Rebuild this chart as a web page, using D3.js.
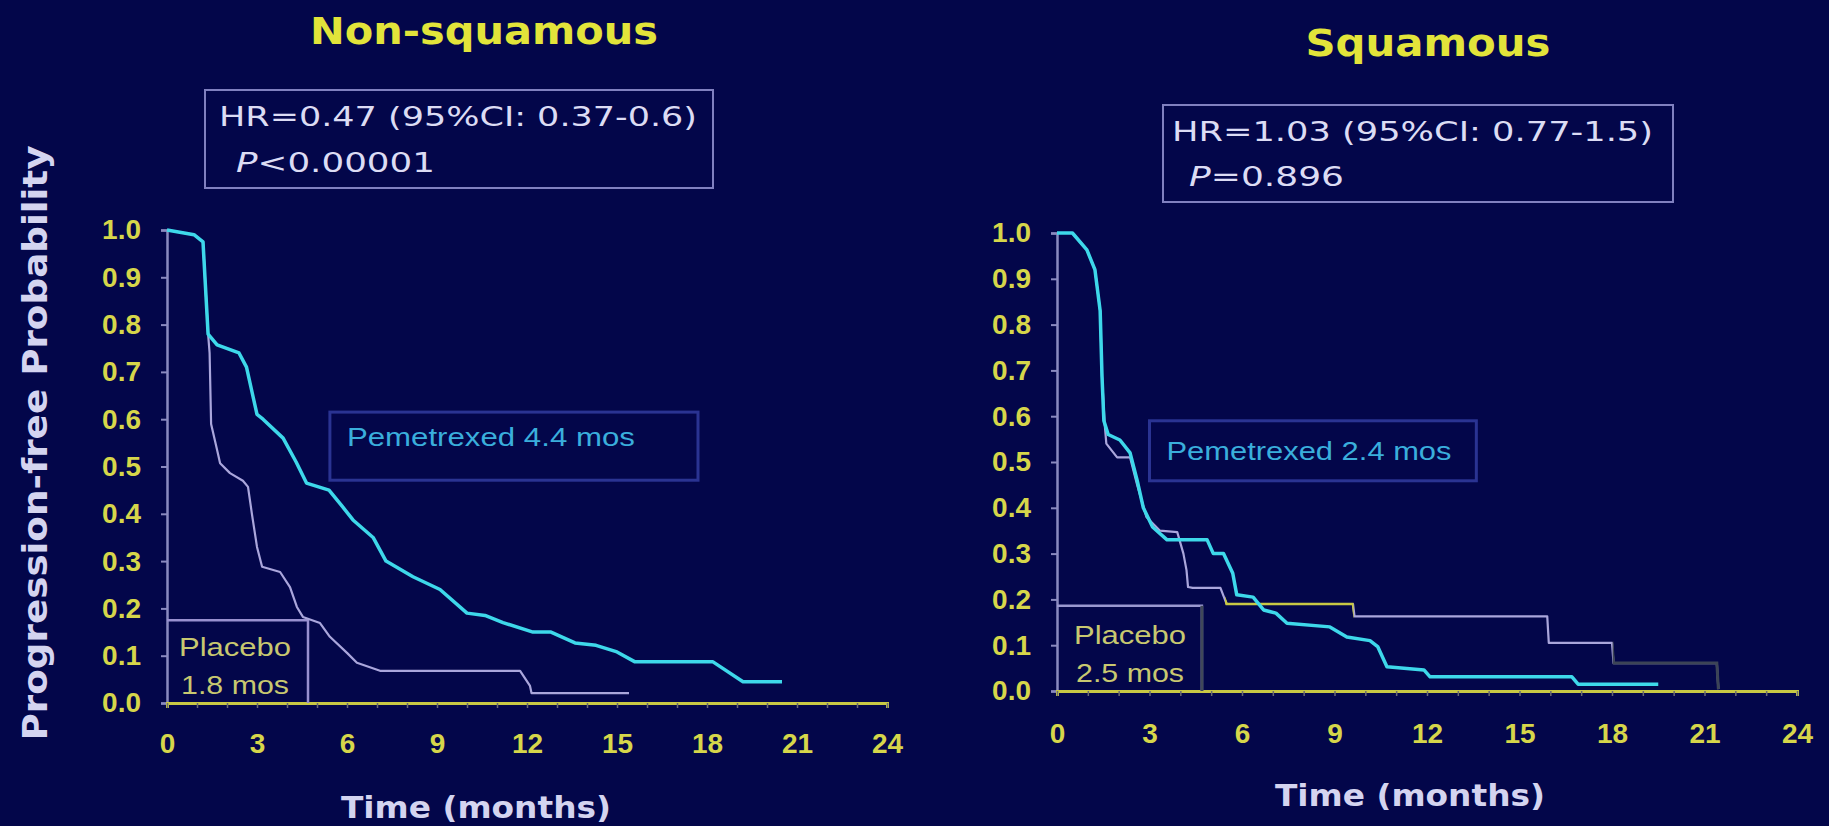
<!DOCTYPE html>
<html><head><meta charset="utf-8">
<script src="https://cdn.jsdelivr.net/npm/d3@7"></script>
<style>html,body{margin:0;padding:0;background:#03064a;} svg{display:block}</style>
</head><body>
<svg id="c" width="1829" height="826"></svg>
<script>
// ---------------- data ----------------
const monthTicks = d3.range(0, 25, 1);
const xTickLabels = [0, 3, 6, 9, 12, 15, 18, 21, 24];
const yTickLabels = [0, 0.1, 0.2, 0.3, 0.4, 0.5, 0.6, 0.7, 0.8, 0.9, 1.0];
const titles = ["Non-squamous", "Squamous"];
const hrLines = ["HR=0.47 (95%CI: 0.37-0.6)", "HR=1.03 (95%CI: 0.77-1.5)"];
const pLines = ["<0.00001", "=0.896"];
const pemLabels = ["Pemetrexed 4.4 mos", "Pemetrexed 2.4 mos"];
const placeboLabels = [["Placebo", "1.8 mos"], ["Placebo", "2.5 mos"]];
const xTitle = "Time (months)";
const yTitle = "Progression-free  Probability";

// [months, probability]
const pemNonSq = [[0,1.0],[0.9,0.99],[1.2,0.975],[1.37,0.78],[1.67,0.757],[2.4,0.74],[2.65,0.71],[3.0,0.61],[3.2,0.60],[3.87,0.56],[4.3,0.51],[4.65,0.465],[5.4,0.45],[5.85,0.415],[6.2,0.387],[6.87,0.35],[7.3,0.30],[8.2,0.267],[9.1,0.24],[10.0,0.19],[10.6,0.185],[11.2,0.17],[12.2,0.15],[12.8,0.15],[13.6,0.127],[14.3,0.122],[15.0,0.108],[15.6,0.087],[18.2,0.087],[19.2,0.045],[20.5,0.045]];
const placeboNonSq = [[0,1.0],[0.9,0.99],[1.2,0.975],[1.37,0.78],[1.42,0.74],[1.47,0.59],[1.67,0.535],[1.77,0.507],[2.1,0.486],[2.53,0.47],[2.7,0.457],[2.83,0.40],[3.0,0.33],[3.17,0.288],[3.77,0.277],[4.1,0.245],[4.33,0.203],[4.53,0.182],[5.1,0.169],[5.43,0.14],[6.0,0.106],[6.33,0.085],[7.1,0.068],[11.77,0.068],[12.1,0.036],[12.15,0.021],[15.4,0.021]];
const pemSq = [[0,1.0],[0.5,1.0],[0.97,0.963],[1.23,0.92],[1.4,0.83],[1.46,0.686],[1.52,0.59],[1.66,0.56],[2.04,0.548],[2.37,0.52],[2.6,0.46],[2.8,0.40],[3.1,0.358],[3.57,0.33],[4.87,0.33],[5.07,0.30],[5.4,0.30],[5.7,0.257],[5.83,0.21],[6.36,0.205],[6.7,0.177],[7.1,0.17],[7.46,0.148],[8.85,0.14],[9.4,0.118],[10.15,0.11],[10.4,0.097],[10.7,0.053],[11.9,0.046],[12.1,0.031],[16.7,0.031],[16.9,0.015],[19.5,0.015]];
const placeboSq = [[0,1.0],[0.5,1.0],[0.97,0.963],[1.23,0.92],[1.4,0.83],[1.46,0.686],[1.55,0.58],[1.6,0.54],[1.95,0.51],[2.37,0.51],[2.6,0.45],[2.9,0.38],[3.34,0.35],[3.9,0.347],[4.1,0.30],[4.2,0.264],[4.25,0.227],[4.4,0.225],[5.3,0.225],[5.5,0.19],[9.6,0.19],[9.65,0.163],[15.9,0.163],[15.95,0.105],[18.0,0.105],[18.05,0.061],[21.4,0.061],[21.45,0.004]];

// annotation boxes in data units: [t0, t1, p0, p1]
const pemBoxes = [[5.43, 17.7, 0.471, 0.615], [3.0, 13.6, 0.459, 0.59]];
const placeboBoxes = [[0, 4.7, 0, 0.175], [0, 4.7, 0, 0.186]];

// ---------------- layout ----------------
const panels = [
  {x0:167, x1:887, yTop:230, yBot:703, pem:pemNonSq, pla:placeboNonSq,
   titleX:484, titleY:44, titleLen:348,
   hrBox:[205,90,508,98], hrX:219, hrY:126, hrLen:478, pX:236, pY:172, pLen:199,
   pemTxtDX:17, pemTxtDY:34, pemTxtLen:288,
   plaCX:235, plaY1:656, plaY2:694,
   xTitleX:476, xTitleY:818, tickTextY:30},
  {x0:1057, x1:1797, yTop:233, yBot:691, pem:pemSq, pla:placeboSq,
   titleX:1428, titleY:56, titleLen:245,
   hrBox:[1163,105,510,97], hrX:1172, hrY:141, hrLen:481, pX:1189, pY:186, pLen:155,
   pemTxtDX:17, pemTxtDY:39, pemTxtLen:285,
   plaCX:1130, plaY1:644, plaY2:682,
   xTitleX:1410, xTitleY:806, tickTextY:32}
];

const svg = d3.select("#c");
svg.append("rect").attr("width",1829).attr("height",826).attr("fill","#03064a");

const YEL = "#d6d64a", LAV = "#d4d4f0";

panels.forEach((P, i) => {
  const x = d3.scaleLinear().domain([0,24]).range([P.x0, P.x1]);
  const y = d3.scaleLinear().domain([0,1]).range([P.yBot, P.yTop]);
  const g = svg.append("g");

  // title
  g.append("text").attr("x",P.titleX).attr("y",P.titleY).attr("text-anchor","middle")
    .attr("font-family","DejaVu Sans").attr("font-weight","bold").attr("font-size",38)
    .attr("textLength",P.titleLen).attr("lengthAdjust","spacingAndGlyphs")
    .attr("fill","#e2e43a").text(titles[i]);

  // HR box
  g.append("rect").attr("x",P.hrBox[0]).attr("y",P.hrBox[1]).attr("width",P.hrBox[2]).attr("height",P.hrBox[3])
    .attr("fill","none").attr("stroke","#8080c0").attr("stroke-width",2);
  g.append("text").attr("x",P.hrX).attr("y",P.hrY).attr("font-family","DejaVu Sans").attr("font-size",26)
    .attr("textLength",P.hrLen).attr("lengthAdjust","spacingAndGlyphs").attr("fill","#dcdcf4").text(hrLines[i]);
  const pt = g.append("text").attr("x",P.pX).attr("y",P.pY).attr("font-family","DejaVu Sans").attr("font-size",26)
    .attr("textLength",P.pLen).attr("lengthAdjust","spacingAndGlyphs").attr("fill","#dcdcf4");
  pt.append("tspan").attr("font-style","italic").text("P");
  pt.append("tspan").text(pLines[i]);

  // axes
  const yAxis = d3.axisLeft(y).tickValues(yTickLabels).tickSize(6).tickPadding(20).tickFormat(d3.format(".1f"));
  const ya = g.append("g").attr("transform",`translate(${P.x0},0)`).call(yAxis);
  ya.select(".domain").attr("stroke","#8a8ac0").attr("stroke-width",2.5);
  ya.selectAll(".tick line").attr("stroke","#8a8ac0").attr("stroke-width",2);
  ya.selectAll(".tick text").attr("fill",YEL).attr("font-family","Liberation Sans").attr("font-weight","bold").attr("font-size",28);

  const xAxis = d3.axisBottom(x).tickValues(monthTicks).tickSize(5).tickPadding(0)
    .tickFormat(d => xTickLabels.includes(d) ? d : "");
  const xa = g.append("g").attr("transform",`translate(0,${P.yBot})`).call(xAxis);
  xa.select(".domain").attr("stroke","#c8c844").attr("stroke-width",3);
  xa.selectAll(".tick line").attr("stroke","#6a6a70").attr("stroke-width",1.5);
  xa.selectAll(".tick text").attr("y",P.tickTextY).attr("fill",YEL).attr("font-family","Liberation Sans")
    .attr("font-weight","bold").attr("font-size",28);

  // axis titles
  g.append("text").attr("x",P.xTitleX).attr("y",P.xTitleY).attr("text-anchor","middle")
    .attr("font-family","DejaVu Sans").attr("font-weight","bold").attr("font-size",31)
    .attr("textLength",270).attr("lengthAdjust","spacingAndGlyphs").attr("fill",LAV).text(xTitle);

  // pemetrexed box
  const pb = pemBoxes[i];
  g.append("rect").attr("x",x(pb[0])).attr("y",y(pb[3])).attr("width",x(pb[1])-x(pb[0])).attr("height",y(pb[2])-y(pb[3]))
    .attr("fill","none").attr("stroke","#2a3392").attr("stroke-width",3);
  g.append("text").attr("x",x(pb[0])+P.pemTxtDX).attr("y",y(pb[3])+P.pemTxtDY)
    .attr("font-family","Liberation Sans").attr("font-size",25).attr("textLength",P.pemTxtLen)
    .attr("lengthAdjust","spacingAndGlyphs").attr("fill","#3aaedc").text(pemLabels[i]);

  // placebo box
  const qb = placeboBoxes[i];
  g.append("path").attr("d",`M${x(qb[0])},${y(qb[3])}H${x(qb[1])}V${y(qb[2])}`)
    .attr("fill","none").attr("stroke", i===0 ? "#9890d0" : "#9a98d0").attr("stroke-width",2.5);
  if (i===1) {
    g.append("path").attr("d",`M${x(qb[1])},${y(qb[3])}V${y(qb[2])}`).attr("stroke","#40485a").attr("stroke-width",3);
  }
  g.append("text").attr("x",P.plaCX).attr("y",P.plaY1).attr("text-anchor","middle")
    .attr("font-family","Liberation Sans").attr("font-size",25).attr("textLength",112).attr("lengthAdjust","spacingAndGlyphs")
    .attr("fill","#c8c870").text(placeboLabels[i][0]);
  g.append("text").attr("x",P.plaCX).attr("y",P.plaY2).attr("text-anchor","middle")
    .attr("font-family","Liberation Sans").attr("font-size",25).attr("textLength",108).attr("lengthAdjust","spacingAndGlyphs")
    .attr("fill","#c8c870").text(placeboLabels[i][1]);

  // curves
  const line = d3.line().x(d => x(d[0])).y(d => y(d[1])).curve(d3.curveLinear);
  g.append("path").datum(P.pla).attr("d",line).attr("fill","none").attr("stroke","#aaa6dc")
    .attr("stroke-width",2.2).attr("stroke-linejoin","round");
  if (i===1) {
    const cid = "clipY" + i, cid2 = "clipD" + i;
    const defs = svg.append("defs");
    defs.append("clipPath").attr("id",cid).append("rect").attr("x",x(5.45)).attr("y",0).attr("width",x(9.62)-x(5.45)).attr("height",826);
    defs.append("clipPath").attr("id",cid2).append("rect").attr("x",x(18.02)).attr("y",0).attr("width",x(24)-x(18.02)).attr("height",826);
    g.append("path").datum(P.pla).attr("d",line).attr("fill","none").attr("stroke","#c8c844")
      .attr("stroke-width",2.6).attr("clip-path",`url(#${cid})`);
    g.append("path").datum(P.pla).attr("d",line).attr("fill","none").attr("stroke","#3c4456")
      .attr("stroke-width",3).attr("clip-path",`url(#${cid2})`);
  }
  g.append("path").datum(P.pem).attr("d",line).attr("fill","none").attr("stroke","#3ed8ea")
    .attr("stroke-width",3.5).attr("stroke-linejoin","round");
});

// shared y title
svg.append("text").attr("transform","translate(47,443) rotate(-90)").attr("text-anchor","middle")
  .attr("font-family","DejaVu Sans").attr("font-weight","bold").attr("font-size",33)
  .attr("textLength",595).attr("lengthAdjust","spacingAndGlyphs").attr("fill",LAV).text(yTitle);
</script>
</body></html>
